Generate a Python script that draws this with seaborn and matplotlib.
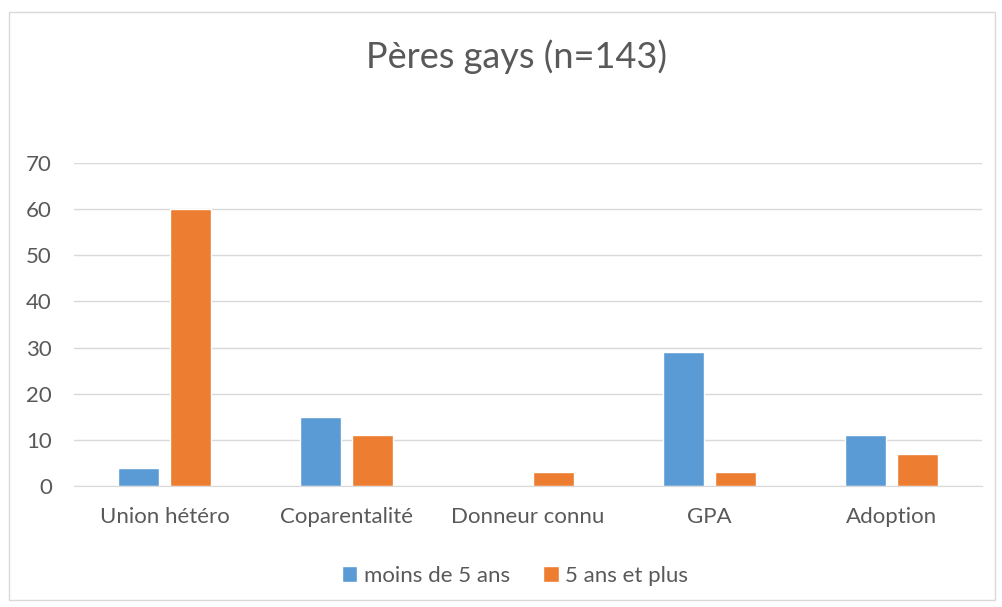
import pandas as pd
import seaborn as sns
import matplotlib.pyplot as plt
from matplotlib.patches import Rectangle

categories = ['Union hétéro', 'Coparentalité', 'Donneur connu', 'GPA', 'Adoption']
moins_5 = [4, 15, 0, 29, 11]
plus_5 = [60, 11, 3, 3, 7]
series = ['moins de 5 ans', '5 ans et plus']

df = pd.DataFrame({
    'categorie': categories * 2,
    'valeur': moins_5 + plus_5,
    'groupe': [series[0]] * len(categories) + [series[1]] * len(categories),
})

sns.set_style('white')
plt.rcParams['font.family'] = ['Lato', 'DejaVu Sans']
grey = '#595959'

fig = plt.figure(figsize=(10.02, 6.07), dpi=100)
ax = fig.add_axes([74 / 1002, 121 / 607, 908 / 1002, 323 / 607])

sns.barplot(data=df, x='categorie', y='valeur', hue='groupe',
            palette=['#5B9BD5', '#ED7D31'], width=0.572, gap=0.21,
            saturation=1, ax=ax)

ax.set_ylim(0, 70)
ax.set_yticks(range(0, 71, 10))
ax.yaxis.grid(True, color='#D9D9D9', linewidth=1)
ax.set_axisbelow(True)
for s in ['top', 'right', 'left']:
    ax.spines[s].set_visible(False)
ax.spines['bottom'].set_color('#D9D9D9')
ax.tick_params(axis='both', length=0, labelsize=16, colors=grey)
ax.tick_params(axis='x', pad=15)
ax.tick_params(axis='y', pad=16)
ax.set_xlabel('')
ax.set_ylabel('')

ax.legend(loc='center', bbox_to_anchor=(515 / 1002, 1 - 576 / 607),
          bbox_transform=fig.transFigure, ncol=2, frameon=False,
          fontsize=16, labelcolor=grey, handlelength=0.7, handleheight=0.7,
          handletextpad=0.3, columnspacing=1.5)

fig.text(0.515, 1 - 57 / 607, 'Pères gays (n=143)', ha='center', va='center',
         fontsize=26, color=grey)

fig.patches.append(Rectangle((9 / 1002, 7 / 607), 986 / 1002, 588 / 607,
                             transform=fig.transFigure, fill=False,
                             edgecolor='#D9D9D9', linewidth=1))

fig.savefig('out.png', dpi=100)
